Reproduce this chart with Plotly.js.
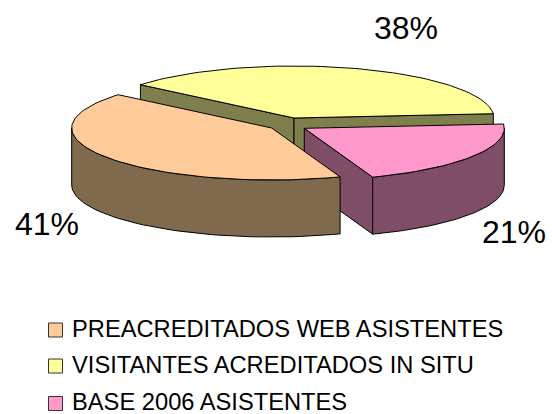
<!DOCTYPE html>
<html>
<head>
<meta charset="utf-8">
<script src="https://cdn.plot.ly/plotly-3.0.1.min.js"></script>
<style>html,body{margin:0;padding:0;background:#fff}#chart{width:552px;height:414px}</style>
</head>
<body>
<div id="chart"></div>
<script>
const categories = ["PREACREDITADOS WEB ASISTENTES", "VISITANTES ACREDITADOS IN SITU", "BASE 2006 ASISTENTES"];
const values = [41.49, 37.5, 20.7];
const topColors = ["#FFCC99", "#FFFF99", "#FF99CC"];
const sideColors = ["#7F6A4D", "#7F7F4D", "#7F4D66"];
const centers = [[271.7, 128], [294, 118], [304.3, 128.3]];
const labelPos = [[47, 224], [406, 28], [514, 232]];
const legendTextY = [328.5, 365, 401.5];
const legendSwatchY = [330, 366, 403.5];
const RX = 200, RY = 52, DEPTH = 57, PINK_END = -70;
const FONT = "Liberation Sans, Arial, sans-serif";

const rad = d => d * Math.PI / 180;
const pt = (c, a, dz = 0) => [c[0] + RX * Math.cos(rad(a)), c[1] - RY * Math.sin(rad(a)) + dz];
function arc(c, a0, a1, dz = 0) {
  const out = [], n = Math.max(2, Math.ceil(Math.abs(a1 - a0) / 2));
  for (let i = 0; i <= n; i++) out.push(pt(c, a0 + (a1 - a0) * i / n, dz));
  return out;
}
function poly(points, color) {
  const closed = points.concat([points[0]]);
  return { type: "scatter", mode: "lines", x: closed.map(p => p[0]), y: closed.map(p => p[1]),
    fill: "toself", fillcolor: color, line: { color: "#000", width: 1 },
    showlegend: false, hoverinfo: "skip" };
}
// Slice angles follow from the values, going anticlockwise from the end of the last slice.
const total = values.reduce((s, v) => s + v, 0);
const orangeSpan = values[0] / total * 360, yellowSpan = values[1] / total * 360, pinkSpan = values[2] / total * 360;
const pinkStart = PINK_END + pinkSpan;
const yellowStart = pinkStart, yellowEnd = yellowStart + yellowSpan;
const orangeStart = yellowEnd, orangeEnd = orangeStart + orangeSpan;
const [cO, cY, cP] = centers;
const down = p => [p[0], p[1] + DEPTH];

const traces = [];
// yellow slice walls, top
let a = pt(cY, yellowEnd), b = pt(cY, yellowStart);
traces.push(poly([a, cY, down(cY), down(a)], sideColors[1]));
traces.push(poly([cY, b, down(b), down(cY)], sideColors[1]));
traces.push(poly([cY].concat(arc(cY, yellowStart, yellowEnd)), topColors[1]));
// pink slice walls, top
a = pt(cP, PINK_END);
traces.push(poly([cP, a, down(a), down(cP)], sideColors[2]));
traces.push(poly(arc(cP, PINK_END, 0).concat(arc(cP, 0, PINK_END, DEPTH)), sideColors[2]));
traces.push(poly([cP].concat(arc(cP, PINK_END, pinkStart)), topColors[2]));
// orange slice wall, top
traces.push(poly(arc(cO, 180, orangeEnd).concat(arc(cO, orangeEnd, 180, DEPTH)), sideColors[0]));
traces.push(poly([cO].concat(arc(cO, orangeStart, orangeEnd)), topColors[0]));

// legend swatches
traces.push({
  type: "scatter", mode: "markers", x: categories.map(() => 55.5), y: legendSwatchY,
  showlegend: false, hoverinfo: "skip",
  marker: { symbol: "square", size: 14, color: topColors, line: { color: "#333", width: 1 } }
});

const annotations = values.map((v, i) => ({
  x: labelPos[i][0], y: labelPos[i][1], xref: "x", yref: "y", showarrow: false,
  text: Math.round(v) + "%", font: { family: FONT, size: 32, color: "#000" }
})).concat(categories.map((name, i) => ({
  x: 69.5, y: legendTextY[i], xref: "x", yref: "y", showarrow: false, xanchor: "left",
  text: name, font: { family: FONT, size: 23.7, color: "#000" }
})));

const layout = {
  width: 552, height: 414, margin: { l: 0, r: 0, t: 0, b: 0 },
  paper_bgcolor: "#fff", plot_bgcolor: "#fff",
  xaxis: { range: [0, 552], visible: false, fixedrange: true },
  yaxis: { range: [414, 0], visible: false, fixedrange: true },
  annotations, showlegend: false
};
Plotly.newPlot("chart", traces, layout, { displayModeBar: false, staticPlot: true });
</script>
</body>
</html>
